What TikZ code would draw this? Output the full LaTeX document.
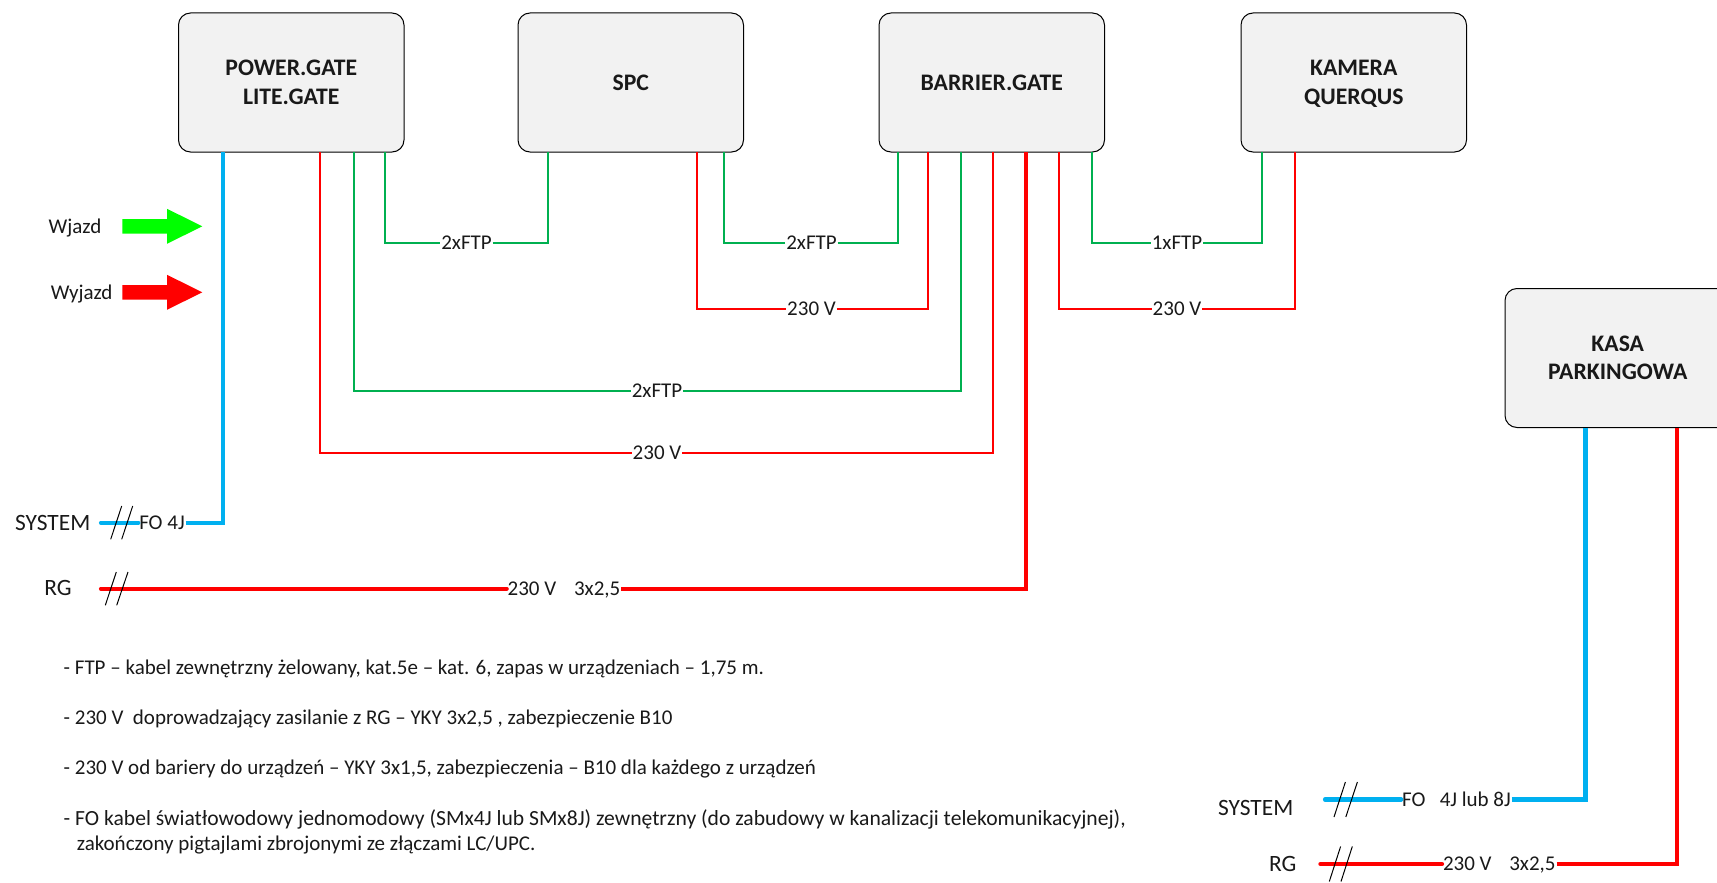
\documentclass[tikz,border=0pt]{standalone}
\usepackage{fontspec}
\setmainfont{Carlito}
\definecolor{cblue}{HTML}{00B0F0}
\definecolor{cgreen}{HTML}{00B050}
\definecolor{boxfill}{HTML}{F2F2F2}
\tikzset{
  devbox/.style={draw=black,fill=boxfill,rounded corners=12pt,line width=1pt,minimum width=225.5pt,minimum height=139pt,inner sep=0pt,outer sep=0pt,align=center,font=\fontsize{23.7}{28.5}\selectfont\bfseries,text=black!90},
  lab/.style={inner sep=1pt,outer sep=0pt,text height=13.3pt,text depth=0pt,font=\fontsize{21}{25}\selectfont,text=black!90},
  lead/.style={font=\fontsize{21}{25}\selectfont,inner sep=0pt,text=black!90},
  leadb/.style={font=\fontsize{23.4}{28}\selectfont,inner sep=0pt,text=black!90},
  note/.style={anchor=west,inner sep=0pt,text height=13.3pt,text depth=0pt,font=\fontsize{21}{25}\selectfont,text=black!90},
  notew/.style={note,font=\fontsize{21.6}{25}\selectfont},
  gw/.style={cgreen,line width=2pt},
  rw/.style={red,line width=2pt},
  rt/.style={red,line width=4.2pt},
  bt/.style={cblue,line width=4.2pt},
  tick/.style={black,line width=1pt}
}
\begin{document}
\begin{tikzpicture}[x=1pt,y=-1pt]
\useasboundingbox (0,0) rectangle (1717,883);
% devices
\node[devbox] (pg) at (291.25,82.5) {POWER.GATE\\LITE.GATE};
\node[devbox] (spc) at (630.75,82.5) {SPC};
\node[devbox] (bar) at (991.75,82.5) {BARRIER.GATE};
\node[devbox] (kam) at (1353.75,82.5) {KAMERA\\\smash{QUERQUS}};
\node[devbox] (kasa) at (1617.75,358) {KASA\\PARKINGOWA};
% labels on connectors
\node[lab] (l1) at (466.5,242.7) {2xFTP};
\node[lab] (l2) at (811.5,242.7) {2xFTP};
\node[lab] (l3) at (811.5,309) {230 V};
\node[lab] (l4) at (1177,242.7) {1xFTP};
\node[lab] (l5) at (1177,309) {230 V};
\node[lab] (l6) at (657,390.7) {2xFTP};
\node[lab] (l7) at (657,452.5) {230 V};
\node[lab] (l8) at (162,522.7) {FO 4J};
\node[lab] (l9) at (564,588.7) {230 V\ \ \ \,3x2,5};
\node[lab] (l10) at (1456.5,799.4) {FO\ \ \ 4J lub 8J};
\node[lab] (l11) at (1499.3,864) {230 V\ \ \ \,3x2,5};
% thin connectors
\draw[gw] ([xshift=206.5pt]pg.south west) |- (l1.west);
\draw[gw] (l1.east) -| ([xshift=29.5pt]spc.south west);
\draw[gw] ([xshift=206pt]spc.south west) |- (l2.west);
\draw[gw] (l2.east) -| ([xshift=19pt]bar.south west);
\draw[rw] ([xshift=178.5pt]spc.south west) |- (l3.west);
\draw[rw] (l3.east) -| ([xshift=48.5pt]bar.south west);
\draw[gw] ([xshift=213pt]bar.south west) |- (l4.west);
\draw[gw] (l4.east) -| ([xshift=20.5pt]kam.south west);
\draw[rw] ([xshift=180pt]bar.south west) |- (l5.west);
\draw[rw] (l5.east) -| ([xshift=53.5pt]kam.south west);
\draw[gw] ([xshift=175pt]pg.south west) |- (l6.west);
\draw[gw] (l6.east) -| ([xshift=81.5pt]bar.south west);
\draw[rw] ([xshift=141.8pt]pg.south west) |- (l7.west);
\draw[rw] (l7.east) -| ([xshift=114pt]bar.south west);
% thick connectors
\coordinate (sysL) at (101,522.7);
\coordinate (rgL) at (101,588.7);
\coordinate (sysR) at (1325,799.4);
\coordinate (rgR) at (1320.4,864);
\draw[bt,line cap=round] (sysL) -- (l8.west);
\draw[bt] (l8.east) -| ([xshift=44.2pt]pg.south west);
\draw[rt,line cap=round] (rgL) -- (l9.west);
\draw[rt] (l9.east) -| ([xshift=147pt]bar.south west);
\draw[bt,line cap=round] (sysR) -- (l10.west);
\draw[bt] (l10.east) -| ([xshift=80.5pt]kasa.south west);
\draw[rt,line cap=round] (rgR) -- (l11.west);
\draw[rt] (l11.east) -| ([xshift=171.7pt]kasa.south west);
% cable ticks
\coordinate (a1) at (110.7,539.3); \coordinate (a2) at (121.7,506);
\coordinate (a3) at (121.7,539.3); \coordinate (a4) at (132.7,506);
\coordinate (b1) at (105.3,605.3); \coordinate (b2) at (116.3,572);
\coordinate (b3) at (116.7,605.3); \coordinate (b4) at (128,572);
\coordinate (c1) at (1334,817); \coordinate (c2) at (1345.4,782);
\coordinate (c3) at (1345.8,817); \coordinate (c4) at (1357.4,782);
\coordinate (d1) at (1329.3,881.5); \coordinate (d2) at (1340.6,846.5);
\coordinate (d3) at (1341,881.5); \coordinate (d4) at (1352.3,846.5);
\draw[tick] (a1) -- (a2); \draw[tick] (a3) -- (a4);
\draw[tick] (b1) -- (b2); \draw[tick] (b3) -- (b4);
\draw[tick] (c1) -- (c2); \draw[tick] (c3) -- (c4);
\draw[tick] (d1) -- (d2); \draw[tick] (d3) -- (d4);
% side labels
\node[lead] (wj) at (75,227.7) {Wjazd};
\node[lead] (wy) at (81.7,293.7) {Wyjazd};
\node[leadb] (s1) at (52.7,523) {SYSTEM};
\node[leadb] (r1) at (58,587.5) {RG};
\node[leadb] (s2) at (1255.7,807.5) {SYSTEM};
\node[leadb] (r2) at (1282.7,863.5) {RG};
% direction arrows
\fill[green] (122.3,219) -- (167,219) -- (167,208.8) -- (202.3,226.3) -- (167,243.8) -- (167,233.6) -- (122.3,233.6) -- cycle;
\fill[red] (122.3,285) -- (167,285) -- (167,274.8) -- (202.3,292.3) -- (167,309.8) -- (167,299.6) -- (122.3,299.6) -- cycle;
% notes
\node[note] (n1) at (63.5,667.5) {- FTP – kabel zewnętrzny żelowany, kat.5e – kat. 6, zapas w urządzeniach – 1,75 m.};
\node[note] (n2) at (63.5,717.5) {- 230 V\ \ doprowadzający zasilanie z RG – YKY 3x2,5 , zabezpieczenie B10};
\node[note] (n3) at (63.5,768) {- 230 V od bariery do urządzeń – YKY 3x1,5, zabezpieczenia – B10 dla każdego z urządzeń};
\node[notew] (n4) at (63.5,819) {- FO kabel światłowodowy jednomodowy (SMx4J lub SMx8J) zewnętrzny (do zabudowy w kanalizacji telekomunikacyjnej),};
\node[note] (n5) at (76.6,844) {zakończony pigtajlami zbrojonymi ze złączami LC/UPC.};
\end{tikzpicture}
\end{document}
